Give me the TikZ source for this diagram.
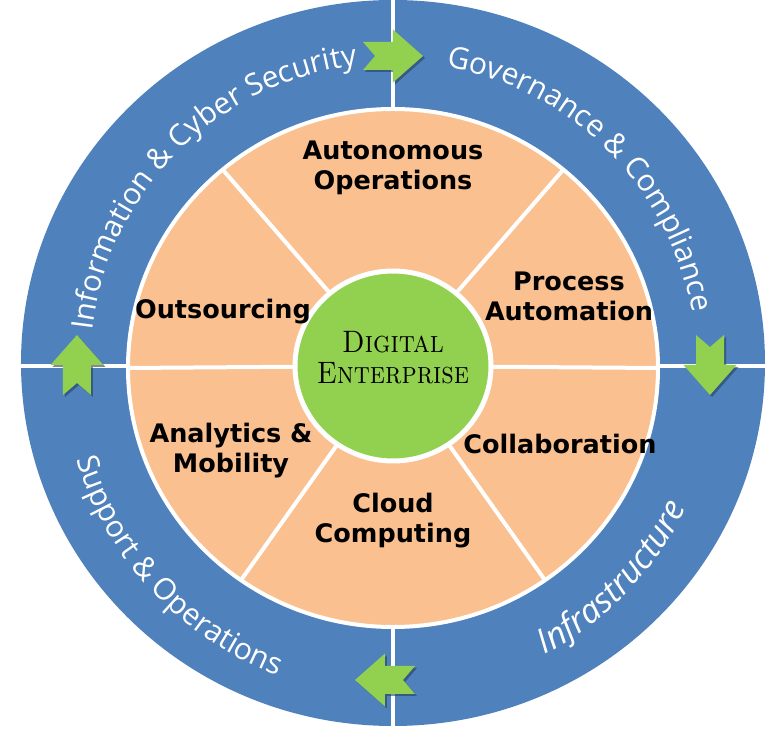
\documentclass[tikz,border=0pt]{standalone}
\usepackage{fontspec}
\setsansfont{Open Sans}
\newfontfamily\labelfont{DejaVu Sans}
\usetikzlibrary{decorations.text, shadows}
\definecolor{ringblue}{RGB}{79,129,189}
\definecolor{peach}{RGB}{250,192,144}
\definecolor{leaf}{RGB}{146,208,80}
\newcommand{\ringfont}{\sffamily\fontsize{30}{30}\selectfont\color{white}}
\tikzstyle{sector} = [font=\labelfont\bfseries\fontsize{25.5}{30}\selectfont, align=center, text=black]
\tikzstyle{divider} = [draw=white, line width=4pt]
\tikzset{
  flow arrow/.pic={
    \fill[leaf, drop shadow={shadow xshift=2pt, shadow yshift=-2pt, fill=ringblue!50!black, opacity=0.6}]
      (-30,14) -- (0,14) -- (0,26.5) -- (30,0) -- (0,-26.5) -- (0,-14) -- (-30,-14) -- (-18,0) -- cycle;
  },
  ring text/.style={decorate, decoration={text along path, text align=center, text={|\ringfont|#1}}}
}

\begin{document}
\begin{tikzpicture}[x=1pt, y=1pt]
  \useasboundingbox (-393,-364) rectangle (376,366);

  % outer ring
  \fill[ringblue] (0,3) ellipse [x radius=372, y radius=363];
  \draw[divider] (-372,0) -- (372,0);
  \draw[divider] (0,-360) -- (0,366);

  % inner disc and its six sectors
  \begin{scope}[yshift=-2pt]
    \filldraw[fill=peach, draw=white, line width=4pt] (0,0) ellipse [x radius=265, y radius=259];
    \foreach \a in {0,50,130,180,235,305}
      \draw[divider] (0,2) -- (\a:265 and 259);
  \end{scope}

  % core
  \filldraw[fill=leaf, draw=white, line width=5pt] (0,0) ellipse [x radius=98, y radius=95];
  \node[font=\scshape\fontsize{31}{31}\selectfont, align=center, xscale=0.88, transform shape] (core) at (0,8) {Digital\\Enterprise};

  % sector labels
  \node[sector] (auton) at (0,198) {Autonomous\\Operations};
  \node[sector] (proc) at (176,70) {Process\\Automation};
  \node[sector] (collab) at (167,-78) {Collaboration};
  \node[sector] (cloud) at (0,-155) {Cloud\\Computing};
  \node[sector] (analytics) at (-162,-85) {Analytics \&\\Mobility};
  \node[sector] (outsrc) at (-170,54) {Outsourcing};

  % ring texts
  \path[ring text={Information {\&} Cyber Security}] (185:303) arc[start angle=185, end angle=85, radius=303];
  \path[ring text={Governance {\&} Compliance}] (95:304) arc[start angle=95, end angle=-5, radius=304];
  \path[ring text={Support {\&} Operations}] (173:330) arc[start angle=173, end angle=273, radius=330];
  \path[decorate, decoration={text along path, text align=center,
      text={|\ringfont\itshape\fontsize{34}{34}\selectfont|Infrastructure}}]
    (266:326) arc[start angle=266, end angle=366, radius=326];

  % arrows between the quarters
  \pic at (0,310) {flow arrow};
  \pic[rotate=-90] at (317,1) {flow arrow};
  \pic[rotate=180] at (-8,-314) {flow arrow};
  \pic[rotate=90] at (-316,1) {flow arrow};
\end{tikzpicture}
\end{document}
